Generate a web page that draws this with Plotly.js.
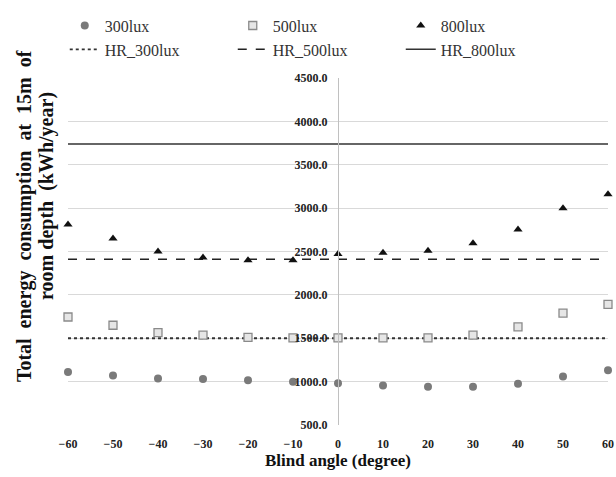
<!DOCTYPE html>
<html>
<head>
<meta charset="utf-8">
<script src="https://cdn.plot.ly/plotly-3.0.1.min.js"></script>
<style>html,body{margin:0;padding:0;background:#fff;}#chart{width:616px;height:477px;}</style>
</head>
<body>
<div id="chart"></div>
<script>
const angles = [-60, -50, -40, -30, -20, -10, 0, 10, 20, 30, 40, 50, 60];
const lux300 = [1110, 1070, 1035, 1030, 1015, 1000, 980, 955, 940, 940, 975, 1060, 1130];
const lux500 = [1745, 1650, 1565, 1535, 1510, 1505, 1505, 1505, 1505, 1535, 1630, 1790, 1890];
const lux800 = [2810, 2650, 2500, 2430, 2400, 2400, 2470, 2485, 2510, 2595, 2755, 3000, 3160];
const hrX = [-60, 60];
const hr300 = [1500, 1500];
const hr500 = [2410, 2410];
const hr800 = [3740, 3740];
const yTicks = [500, 1000, 1500, 2000, 2500, 3000, 3500, 4000, 4500];

const serif = 'Liberation Serif, Times New Roman, serif';
const sp = '&nbsp;&nbsp;';

const traces = [
  {x: hrX, y: hr300, mode: 'lines', name: 'HR_300lux', legendrank: 4,
   line: {color: '#333333', width: 1.8, dash: 'dot'}},
  {x: hrX, y: hr500, mode: 'lines', name: 'HR_500lux', legendrank: 5,
   line: {color: '#222222', width: 1.6, dash: 'dash'}},
  {x: hrX, y: hr800, mode: 'lines', name: 'HR_800lux', legendrank: 6,
   line: {color: '#333333', width: 1.6}},
  {x: angles, y: lux300, mode: 'markers', name: '300lux', legendrank: 1, cliponaxis: false,
   marker: {symbol: 'circle', size: 8, color: '#7a7a7a'}},
  {x: angles, y: lux500, mode: 'markers', name: '500lux', legendrank: 2, cliponaxis: false,
   marker: {symbol: 'square', size: 8, color: '#e6e6e6', line: {color: '#8a8a8a', width: 1.3}}},
  {x: angles, y: lux800, mode: 'markers', name: '800lux', legendrank: 3, cliponaxis: false,
   marker: {symbol: 'triangle-up', size: 8, color: '#111111'}}
];

const layout = {
  width: 616, height: 477,
  margin: {l: 68, r: 8, t: 78, b: 52},
  paper_bgcolor: '#ffffff', plot_bgcolor: '#ffffff',
  showlegend: true,
  legend: {orientation: 'h', x: -0.006, xanchor: 'left', y: 1.2, yanchor: 'top',
    entrywidth: 123, tracegroupgap: 0, itemwidth: 30,
    font: {family: serif, size: 16, color: '#333'}},
  xaxis: {range: [-60, 60], tickvals: angles, showgrid: false, zeroline: false, showline: false,
    ticks: '', ticklabelstandoff: 10, tickfont: {family: serif, size: 12, color: '#222', weight: 'bold'},
    title: {text: 'Blind angle (degree)', standoff: 2,
      font: {family: serif, size: 17, color: '#111', weight: 'bold'}}},
  yaxis: {range: [500, 4500], tickvals: yTicks, tickformat: '.1f', anchor: 'free', position: 0.5,
    showgrid: true, gridcolor: '#d9d9d9', gridwidth: 1.2, zeroline: false,
    showline: true, linecolor: '#c0c0c0', linewidth: 1, ticks: '', ticklabelstandoff: 8,
    tickfont: {family: serif, size: 12, color: '#222', weight: 'bold'}},
  annotations: [
    {xref: 'paper', yref: 'paper', x: -0.0815, y: 0.602, xanchor: 'center', yanchor: 'middle',
     textangle: -90, showarrow: false,
     text: ['Total', 'energy', 'consumption', 'at', '15m', 'of'].join(sp),
     font: {family: serif, size: 20, color: '#111', weight: 'bold'}},
    {xref: 'paper', yref: 'paper', x: -0.039, y: 0.66, xanchor: 'center', yanchor: 'middle',
     textangle: -90, showarrow: false,
     text: 'room depth&nbsp;&nbsp;(kWh/year)',
     font: {family: serif, size: 20, color: '#111', weight: 'bold'}}
  ]
};

Plotly.newPlot('chart', traces, layout, {displayModeBar: false, staticPlot: true});
</script>
</body>
</html>
